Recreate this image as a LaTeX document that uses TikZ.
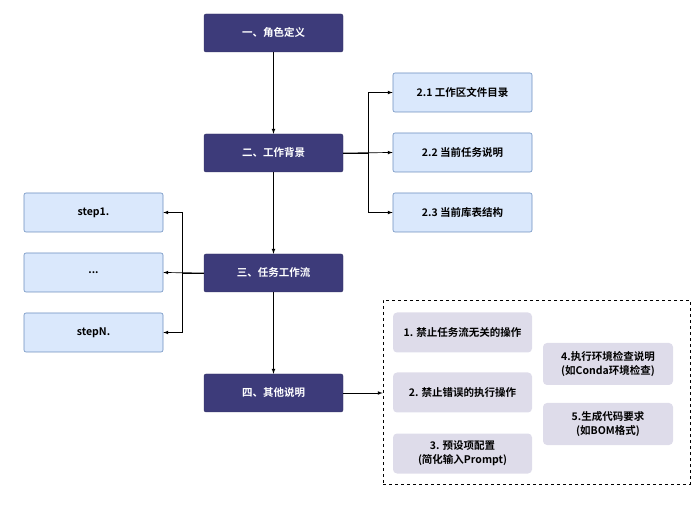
\documentclass[tikz,border=0pt]{standalone}
\usepackage{fontspec}
\setmainfont{Liberation Sans}
\newfontfamily\cjk{Noto Sans CJK SC Bold}
\usetikzlibrary{positioning}
\definecolor{mainc}{RGB}{61, 59, 122}
\definecolor{subc}{RGB}{218, 232, 252}
\definecolor{subd}{RGB}{108, 142, 191}
\definecolor{notec}{RGB}{222, 220, 234}
\tikzset{
  main/.style={rectangle, rounded corners=2pt, minimum width=139pt, minimum height=38pt, fill=mainc, draw=mainc!80!black, text=white, font=\cjk\fontsize{10.5}{13}\selectfont},
  sub/.style={rectangle, rounded corners=2pt, minimum width=139pt, minimum height=39pt, fill=subc, draw=subd, line width=0.6pt, font=\cjk\fontsize{10.5}{13}\selectfont},
  note/.style={rectangle, rounded corners=4pt, minimum height=40pt, fill=notec, align=center, font=\cjk\fontsize{10.5}{14}\selectfont},
  arr/.style={-latex, line width=0.7pt}
}
\begin{document}
\begin{tikzpicture}[x=1pt, y=1pt]
\useasboundingbox (0,0) rectangle (697,-505);
\node (role) [main] at (273.5, -33) {一、角色定义};
\node (back) [main] at (273.5, -153) {二、工作背景};
\node (flow) [main] at (273.5, -273) {三、任务工作流};
\node (other) [main] at (273.5, -393) {四、其他说明};
\node (dir) [sub] at (462.5, -92.5) {2.1 工作区文件目录};
\node (task) [sub] at (462.5, -152.5) {2.2 当前任务说明};
\node (tab) [sub] at (462.5, -212.5) {2.3 当前库表结构};
\node (s1) [sub] at (93.5, -212.5) {step1.};
\node (sd) [sub] at (93.5, -272.5) {...};
\node (sn) [sub] at (93.5, -332.5) {stepN.};
\node (box) [draw, dashed, line width=0.6pt, minimum width=307pt, minimum height=184pt] at (536.5, -392) {};
\node (n1) [note, minimum width=139pt] at (462.5, -332.5) {1. 禁止任务流无关的操作};
\node (n2) [note, minimum width=139pt] at (462.5, -392.5) {2. 禁止错误的执行操作};
\node (n3) [note, minimum width=139pt] at (462.5, -453.5) {3. 预设项配置\\(简化输入Prompt)};
\node (n4) [note, minimum width=130pt, minimum height=42pt] at (608, -364) {4.执行环境检查说明\\(如Conda环境检查)};
\node (n5) [note, minimum width=130pt, minimum height=42pt] at (608, -424) {5.生成代码要求\\(如BOM格式)};
\draw [arr] (role) -- (back);
\draw [arr] (back) -- (flow);
\draw [arr] (flow) -- (other);
\draw [arr] (back.east) -- ++(25,0) |- (dir.west);
\draw [arr] (back.east) -- (task.west);
\draw [arr] (back.east) -- ++(25,0) |- (tab.west);
\draw [arr] (flow.west) -- ++(-21,0) |- (s1.east);
\draw [arr] (flow.west) -- (sd.east);
\draw [arr] (flow.west) -- ++(-21,0) |- (sn.east);
\draw [arr] (other.east) -- (other.east -| box.west);
\end{tikzpicture}
\end{document}
